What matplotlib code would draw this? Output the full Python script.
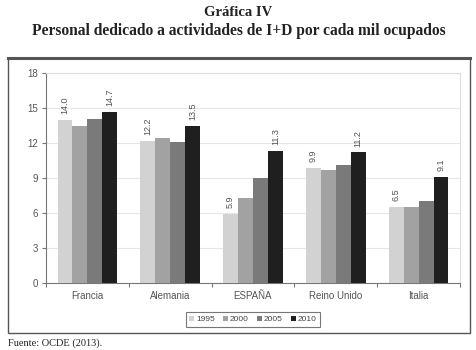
import numpy as np
import matplotlib
matplotlib.use('Agg')
import matplotlib.pyplot as plt
from matplotlib.patches import Rectangle
from matplotlib.lines import Line2D

paises = ['Francia', 'Alemania', 'ESPAÑA', 'Reino Unido', 'Italia']
anios = ['1995', '2000', '2005', '2010']
v1995 = [14.0, 12.2, 5.9, 9.9, 6.5]
v2000 = [13.5, 12.4, 7.3, 9.7, 6.5]
v2005 = [14.1, 12.1, 9.0, 10.1, 7.0]
v2010 = [14.7, 13.5, 11.3, 11.2, 9.1]
colores = ['#d2d2d2', '#a2a2a2', '#7a7a7a', '#1f1f1f']

fig = plt.figure(figsize=(4.77, 3.5), dpi=100)
fig.patch.set_facecolor('white')

# titulos
fig.text(0.5, 1 - 13/350, 'Gráfica IV', ha='center', va='center',
         family='Liberation Serif', fontweight='bold', fontsize=10.5, color='#222222')
fig.text(0.5, 1 - 31/350, 'Personal dedicado a actividades de I+D por cada mil ocupados',
         ha='center', va='center', family='Liberation Serif', fontweight='bold',
         fontsize=11.2, color='#222222')
fig.text(8/477, 1 - 343/350, 'Fuente: OCDE (2013).', ha='left', va='center',
         family='Liberation Serif', fontsize=7.5, color='#222222')

# marco
x0, x1 = 8/477, 470/477
y0, y1 = 1 - 333/350, 1 - 58/350
fig.add_artist(Rectangle((x0, y0), x1 - x0, y1 - y0, transform=fig.transFigure,
                         fill=False, edgecolor='#555555', lw=1.0))
fig.add_artist(Line2D([x0, x1], [y1, y1], transform=fig.transFigure,
                      color='#555555', lw=2.2))

ax = fig.add_axes([46/477, 1 - 283/350, (460 - 46)/477, (283 - 73)/350])
x = np.arange(len(paises))
w = 0.18
series = [v1995, v2000, v2005, v2010]
for i, (vals, c, a) in enumerate(zip(series, colores, anios)):
    pos = x + (i - 1.5) * w
    ax.bar(pos, vals, w, color=c, label=a, zorder=3)
    if i in (0, 3):
        for p, v in zip(pos, vals):
            ax.text(p, v + 0.5, '%.1f' % v, rotation=90, ha='center', va='bottom',
                    fontsize=6.5, color='#555555', family='Liberation Sans')

ax.set_ylim(0, 18)
ax.set_xlim(-0.5, 4.5)
ax.set_yticks(np.arange(0, 19, 3))
ax.yaxis.grid(True, color='#e6e6e6', lw=0.8, zorder=0)
ax.set_xticks(np.arange(-0.5, 5, 1))
ax.set_xticklabels([])
ax.set_xticks(x, minor=True)
ax.set_xticklabels(paises, minor=True)
ax.tick_params(axis='x', which='minor', length=0, pad=6, labelsize=7, labelcolor='#555555')
ax.tick_params(axis='x', which='major', length=3, color='#777777')
ax.tick_params(axis='y', length=3, color='#777777', labelsize=7, labelcolor='#555555', pad=3)
for lbl in ax.get_xticklabels(minor=True) + ax.get_yticklabels():
    lbl.set_family('Liberation Sans')
for s in ['top', 'right']:
    ax.spines[s].set_color('#dddddd')
for s in ['left', 'bottom']:
    ax.spines[s].set_color('#777777')

leg = ax.legend(loc='upper center', bbox_to_anchor=(0.5, -0.12), ncol=4,
                fontsize=6, frameon=True, fancybox=False, edgecolor='#555555',
                handlelength=0.6, handleheight=0.6, handletextpad=0.2,
                columnspacing=1.0, borderpad=0.4,
                prop={'family': 'Liberation Sans', 'size': 6})
leg.get_frame().set_linewidth(0.8)
for t in leg.get_texts():
    t.set_color('#444444')

fig.savefig('out.png', dpi=100)
